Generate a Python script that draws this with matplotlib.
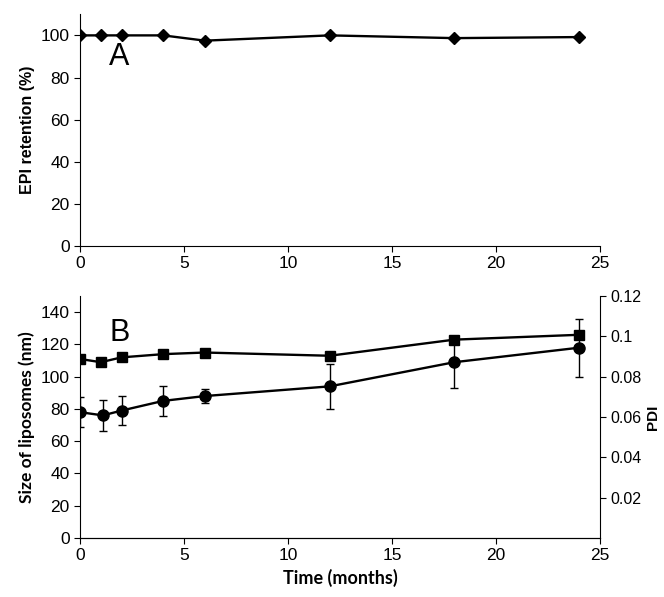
import numpy as np
import matplotlib
matplotlib.use('Agg')
import matplotlib.pyplot as plt

plt.rcParams['font.family'] = ['Liberation Sans', 'DejaVu Sans']

# panel A: EPI retention
months = [0, 1, 2, 4, 6, 12, 18, 24]
retention = [100, 100, 100, 100, 97.5, 100, 98.7, 99.2]

# panel B: liposome size (nm) with error and PDI
size_nm = [78, 76, 79, 85, 88, 94, 109, 118]
size_err = [9.5, 9.5, 9, 9.5, 4.5, 14, 16, 18]
pdi = [0.0888, 0.0872, 0.0896, 0.0912, 0.0920, 0.0904, 0.0984, 0.1008]

fig = plt.figure(figsize=(6.64, 5.97), dpi=100)
axA = fig.add_axes([0.1205, 0.588, 0.783, 0.388])
axB = fig.add_axes([0.1205, 0.099, 0.783, 0.405])

tick_font = 12.5
lab_font = 11.5
calibri_like = ['Lato', 'Liberation Sans', 'DejaVu Sans']

# ---- A ----
axA.plot(months, retention, color='black', lw=1.7, marker='D', ms=6.5)
axA.set_xlim(0, 25)
axA.set_ylim(0, 110)
axA.set_yticks(np.arange(0, 101, 20))
axA.set_xticks(np.arange(0, 26, 5))
axA.spines['top'].set_visible(False)
axA.spines['right'].set_visible(False)
axA.set_ylabel('EPI retention (%)', fontsize=lab_font, fontweight='bold')
axA.tick_params(labelsize=tick_font, direction='out', length=4)
axA.text(1.4, 86, 'A', fontsize=22)

# ---- B ----
axB.errorbar([m + 0.1 if m == 1 else m for m in months], size_nm, yerr=size_err,
             color='black', lw=1.7, marker='o', ms=8, ecolor='black',
             elinewidth=1, capsize=3, capthick=1)
axB.set_xlim(0, 25)
axB.set_ylim(0, 150)
axB.set_yticks(np.arange(0, 141, 20))
axB.set_xticks(np.arange(0, 26, 5))
axB.spines['top'].set_visible(False)
axB.spines['right'].set_visible(False)
axB.set_ylabel('Size of liposomes (nm)', fontsize=12.5, fontweight='bold',
               family=calibri_like)
axB.set_xlabel('Time (months)', fontsize=13, fontweight='bold',
               family=calibri_like)
axB.tick_params(labelsize=tick_font, direction='out', length=4)
axB.text(1.4, 122, 'B', fontsize=22)

axR = axB.twinx()
axR.plot(months, pdi, color='black', lw=1.7, marker='s', ms=6.5)
axR.set_ylim(0, 0.12)
axR.set_yticks([0.02, 0.04, 0.06, 0.08, 0.1, 0.12])
axR.set_yticklabels(['0.02', '0.04', '0.06', '0.08', '0.1', '0.12'])
axR.spines['top'].set_visible(False)
axR.spines['left'].set_visible(False)
axR.set_ylabel('PDI', fontsize=11, fontweight='bold', labelpad=3)
axR.tick_params(labelsize=11.5, direction='out', length=4)

fig.savefig('out.png', dpi=100)
